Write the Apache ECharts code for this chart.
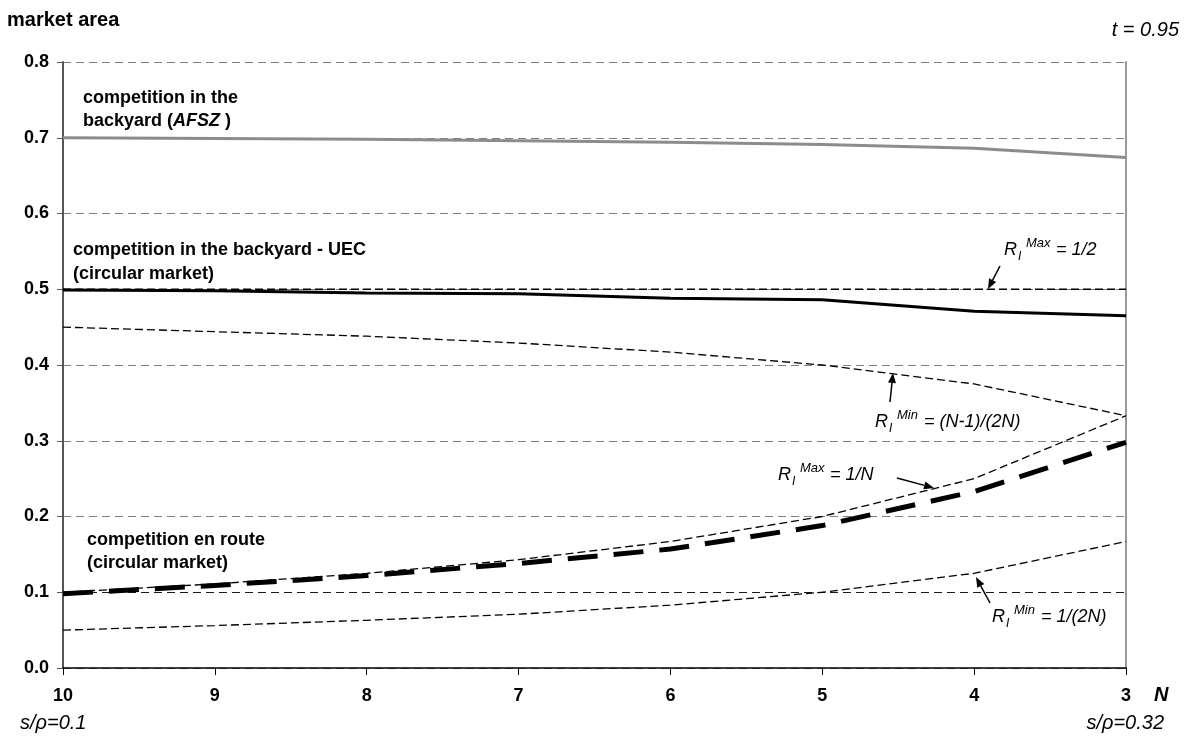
<!DOCTYPE html>
<html>
<head>
<meta charset="utf-8">
<script src="https://cdn.jsdelivr.net/npm/echarts@6/dist/echarts.min.js"></script>
<style>
  html, body { margin: 0; padding: 0; background: #fff; }
  #chart { width: 1190px; height: 736px; }
</style>
</head>
<body>
<div id="chart"></div>
<script>
// Number of firms N (axis runs from 10 down to 3)
const categories = ['10', '9', '8', '7', '6', '5', '4', '3'];
const yTicks = [0.0, 0.1, 0.2, 0.3, 0.4, 0.5, 0.6, 0.7, 0.8];

// competition in the backyard (AFSZ)
const backyardAFSZ = [0.700, 0.699, 0.698, 0.696, 0.694, 0.691, 0.686, 0.674];
// competition in the backyard - UEC (circular market)
const backyardUEC = [0.499, 0.498, 0.495, 0.494, 0.488, 0.486, 0.471, 0.465];
// competition en route (circular market)
const enRoute = [0.098, 0.109, 0.122, 0.138, 0.157, 0.188, 0.233, 0.298];
// bounds
const rMaxHalf = [0.5, 0.5, 0.5, 0.5, 0.5, 0.5, 0.5, 0.5];
const rMinUpper = [0.450, 0.444, 0.438, 0.429, 0.417, 0.400, 0.375, 0.333];
const rMaxInv = [0.100, 0.111, 0.125, 0.143, 0.167, 0.200, 0.250, 0.333];
const rMinHalfInv = [0.050, 0.056, 0.063, 0.071, 0.083, 0.100, 0.125, 0.167];

const FONT = '"Liberation Sans", Arial, sans-serif';
const FS = 18;
const FS_SIDE = 20;

const chart = echarts.init(document.getElementById('chart'), null, { renderer: 'canvas' });

function thinDash(data, name) {
  return {
    name, type: 'line', data, symbol: 'none', silent: true,
    lineStyle: { color: '#000', width: 1.3, type: [8, 4] }, z: 3
  };
}

// "R_I^Max = ..." style annotation built from pieces of text
function rLabel(x, y, sup, rhs) {
  const base = { fontFamily: FONT, fontStyle: 'italic', fill: '#000' };
  const supW = sup === 'Max' ? 30 : 27;
  return [
    { type: 'text', x: x, y: y, style: Object.assign({ text: 'R', fontSize: FS, textVerticalAlign: 'middle' }, base) },
    { type: 'text', x: x + 14, y: y + 7, style: Object.assign({ text: 'I', fontSize: 12, textVerticalAlign: 'middle' }, base) },
    { type: 'text', x: x + 22, y: y - 7, style: Object.assign({ text: sup, fontSize: 13, textVerticalAlign: 'middle' }, base) },
    { type: 'text', x: x + 22 + supW, y: y, style: Object.assign({ text: '= ' + rhs, fontSize: FS, textVerticalAlign: 'middle' }, base) }
  ];
}

function arrow(x1, y1, x2, y2) {
  const ang = Math.atan2(y2 - y1, x2 - x1);
  const L = 10, W = 4;
  const bx = x2 - L * Math.cos(ang), by = y2 - L * Math.sin(ang);
  const px = -Math.sin(ang) * W, py = Math.cos(ang) * W;
  return [
    { type: 'line', shape: { x1, y1, x2: bx, y2: by }, style: { stroke: '#000', lineWidth: 1.5 } },
    { type: 'polygon', shape: { points: [[x2, y2], [bx + px, by + py], [bx - px, by - py]] }, style: { fill: '#000' } }
  ];
}

function boldText(x, y, text, rich, size) {
  return {
    type: 'text', x, y,
    style: {
      text, fontFamily: FONT, fontSize: size || FS, fontWeight: 'bold', fill: '#000',
      textVerticalAlign: 'middle', rich: rich || {}
    }
  };
}

const italicRich = { i: { fontFamily: FONT, fontSize: FS, fontWeight: 'bold', fontStyle: 'italic', fill: '#000' } };

const graphics = [].concat(
  [
    boldText(7, 20, 'market area', null, FS_SIDE),
    {
      type: 'text', x: 1179, y: 30,
      style: { text: 't = 0.95', fontFamily: FONT, fontSize: FS_SIDE, fontStyle: 'italic', fill: '#000', textVerticalAlign: 'middle', textAlign: 'right' }
    },
    {
      type: 'text', x: 1154, y: 695,
      style: { text: 'N', fontFamily: FONT, fontSize: FS_SIDE, fontStyle: 'italic', fontWeight: 'bold', fill: '#000', textVerticalAlign: 'middle' }
    },
    {
      type: 'text', x: 20, y: 723,
      style: { text: 's/ρ=0.1', fontFamily: FONT, fontSize: FS_SIDE, fontStyle: 'italic', fill: '#000', textVerticalAlign: 'middle' }
    },
    {
      type: 'text', x: 1164, y: 723,
      style: { text: 's/ρ=0.32', fontFamily: FONT, fontSize: FS_SIDE, fontStyle: 'italic', fill: '#000', textVerticalAlign: 'middle', textAlign: 'right' }
    },
    boldText(83, 98, 'competition in the'),
    boldText(83, 121, 'backyard ({i|AFSZ} )', italicRich),
    boldText(73, 250, 'competition in the backyard - UEC'),
    boldText(73, 274, '(circular market)'),
    boldText(87, 540, 'competition en route'),
    boldText(87, 563, '(circular market)')
  ],
  rLabel(1004, 250, 'Max', '1/2'),
  arrow(1000, 266, 988, 289),
  rLabel(875, 422, 'Min', '(N-1)/(2N)'),
  arrow(890, 402, 893, 373),
  rLabel(778, 475, 'Max', '1/N'),
  arrow(897, 478, 934, 488),
  rLabel(992, 617, 'Min', '1/(2N)'),
  arrow(990, 603, 976, 577)
);

const option = {
  animation: false,
  backgroundColor: '#fff',
  grid: { left: 63, right: 64, top: 62, bottom: 68, containLabel: false },
  xAxis: {
    type: 'category', data: categories, boundaryGap: false,
    axisLine: { lineStyle: { color: '#000', width: 1.5 } },
    axisTick: { show: true, length: 7, lineStyle: { color: '#000', width: 1 } },
    axisLabel: { color: '#000', fontFamily: FONT, fontSize: FS, fontWeight: 'bold', margin: 19 },
    splitLine: { show: false }
  },
  yAxis: [
    {
      type: 'value', min: 0, max: 0.8, interval: 0.1,
      axisLine: { show: true, lineStyle: { color: '#555', width: 2 } },
      axisTick: { show: true, length: 6, lineStyle: { color: '#555', width: 1 } },
      axisLabel: {
        color: '#000', fontFamily: FONT, fontSize: FS, fontWeight: 'bold', margin: 14,
        formatter: v => {
          const t = yTicks.find(k => Math.abs(k - v) < 1e-6);
          return (t === undefined ? v : t).toFixed(1);
        }
      },
      splitLine: {
        show: true,
        lineStyle: {
          color: ['#7f7f7f', '#1a1a1a', '#7f7f7f', '#7f7f7f', '#7f7f7f', '#7f7f7f', '#7f7f7f', '#7f7f7f', '#7f7f7f'],
          width: 1.2, type: [8, 5]
        }
      }
    },
    {
      type: 'value', min: 0, max: 0.8, interval: 0.1, position: 'right',
      axisLine: { show: true, lineStyle: { color: '#9a9a9a', width: 2 } },
      axisTick: { show: false }, axisLabel: { show: false }, splitLine: { show: false }
    }
  ],
  series: [
    thinDash(rMaxHalf, 'R max 1/2'),
    thinDash(rMinUpper, 'R min (N-1)/(2N)'),
    thinDash(rMaxInv, 'R max 1/N'),
    thinDash(rMinHalfInv, 'R min 1/(2N)'),
    {
      name: 'AFSZ', type: 'line', data: backyardAFSZ, symbol: 'none', silent: true,
      lineStyle: { color: '#8c8c8c', width: 3 }, z: 4
    },
    {
      name: 'UEC', type: 'line', data: backyardUEC, symbol: 'none', silent: true,
      lineStyle: { color: '#000', width: 3 }, z: 4
    },
    {
      name: 'en route', type: 'line', data: enRoute, symbol: 'none', silent: true,
      lineStyle: { color: '#000', width: 5, type: [30, 16], cap: 'butt' }, z: 5
    }
  ],
  graphic: { elements: graphics }
};

chart.setOption(option);
</script>
</body>
</html>
